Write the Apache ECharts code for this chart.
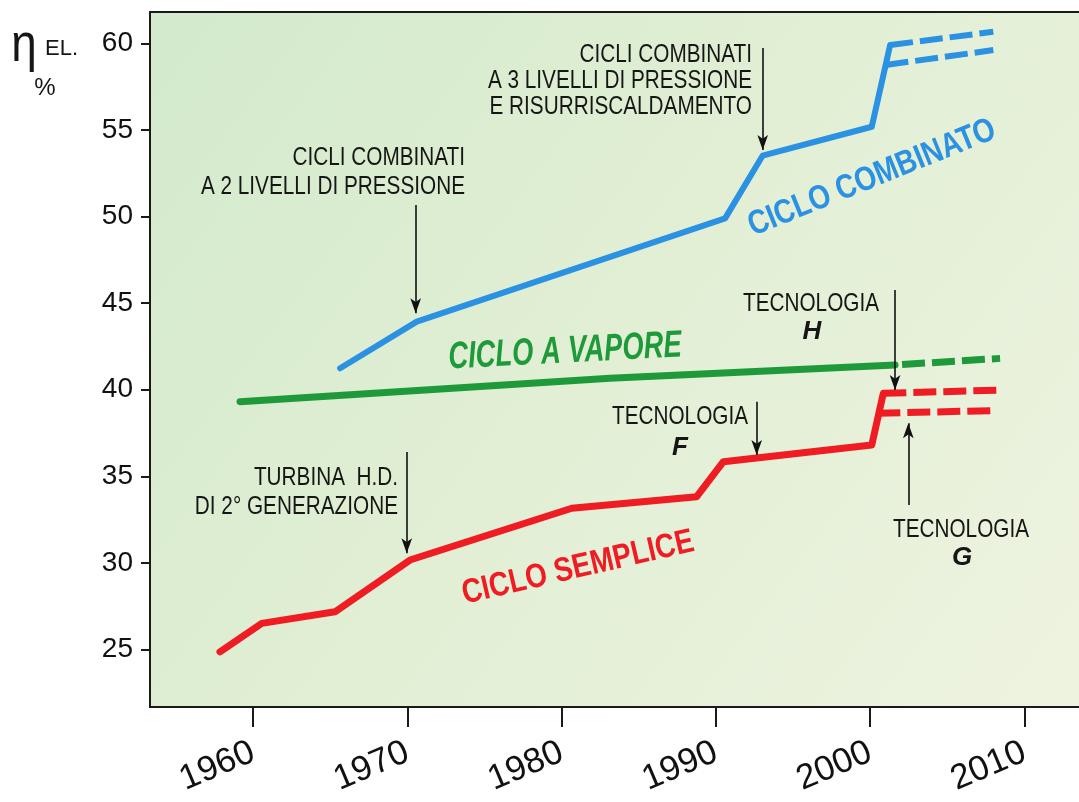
<!DOCTYPE html>
<html><head><meta charset="utf-8">
<script src="https://cdn.jsdelivr.net/npm/echarts@6/dist/echarts.min.js"></script>
<style>html,body{margin:0;padding:0;background:#fff}#c{width:1079px;height:802px}</style>
</head><body><div id="c"></div>
<script>
// ---- data (year, efficiency %) ----
const xTicks = [1960, 1970, 1980, 1990, 2000, 2010];
const yTicks = [25, 30, 35, 40, 45, 50, 55, 60];

const combinedSolid = [[1965.64, 41.24], [1970.61, 43.93], [1990.60, 49.90], [1993.03, 53.52], [2000.11, 55.19], [2001.30, 59.91]];
const combinedUpperForecast = [[2001.30, 59.91], [2007.99, 60.68]];
const combinedLowerForecast = [[2001.00, 58.76], [2007.99, 59.62]];

const steamSolid = [[1959.15, 39.31], [1983.14, 40.66], [2001.62, 41.43]];
const steamForecast = [[2001.62, 41.43], [2008.43, 41.81]];

const simpleSolid = [[1957.85, 24.86], [1960.56, 26.50], [1965.31, 27.17], [1970.17, 30.16], [1980.66, 33.15], [1988.76, 33.82], [1990.49, 35.84], [2000.11, 36.81], [2000.86, 39.79]];
const simpleUpperForecast = [[2000.86, 39.79], [2008.43, 39.98]];
const simpleLowerForecast = [[2000.47, 38.64], [2007.89, 38.79]];

// annotation arrows: [year, fromValue, toValue]
const arrows = [[1970.54, 50.67, 44.41], [1993.04, 59.74, 53.85], [1969.96, 36.40, 30.55], [1992.65, 39.31, 36.23], [2001.62, 45.76, 39.98], [2002.48, 33.34, 38.06]];

const BLUE = '#2a91e3', RED = '#ef1c24', GREEN = '#1f9a3a';
const chart = echarts.init(document.getElementById('c'), null, {renderer: 'canvas'});

function line(data, color, width, dashed, offset) {
  return {
    type: 'line', data: data, showSymbol: false, symbol: 'none', silent: true, animation: false, z: 3,
    lineStyle: {color: color, width: width, type: dashed ? [23, 7] : 'solid', dashOffset: offset || 0,
      cap: dashed ? 'butt' : 'round', join: 'round'}
  };
}

const arrowSeries = {
  type: 'line', data: [], silent: true, animation: false, z: 4,
  markLine: {
    silent: true, animation: false, symbol: ['none', 'arrow'], symbolSize: [8, 15],
    label: {show: false},
    lineStyle: {color: '#111', width: 1.6, type: 'solid'},
    data: arrows.map(a => [{coord: [a[0], a[1]]}, {coord: [a[0], a[2]]}])
  }
};

const TXT = '#161616';
function t(text, x, y, opts) {
  opts = opts || {};
  const align = opts.align || 'center';
  return {
    type: 'text', x: x, y: y, z: 10, scaleX: opts.sx == null ? 0.83 : opts.sx, rotation: (opts.rot || 0) * Math.PI / 180,
    style: {text: text, font: opts.font || '25px "Liberation Sans", Arial, sans-serif', fill: opts.color || TXT,
      textAlign: align, textVerticalAlign: 'middle', align: align, verticalAlign: 'middle'}
  };
}

const option = {
  backgroundColor: '#ffffff',
  animation: false,
  grid: {
    left: 150, top: 12, right: -5, bottom: 95, show: true, borderColor: '#1a1a1a', borderWidth: 2,
    containLabel: false, outerBoundsMode: 'none',
    backgroundColor: {type: 'linear', x: 0, y: 0, x2: 1, y2: 1, colorStops: [
      {offset: 0, color: '#d3eacc'}, {offset: 0.5, color: '#e2efd5'}, {offset: 1, color: '#eef3e0'}]}
  },
  xAxis: {
    type: 'value', min: 1953.315, max: 2013.87,
    axisLine: {show: true, lineStyle: {color: '#1a1a1a', width: 2}},
    axisTick: {show: true, customValues: xTicks, length: 20, lineStyle: {color: '#1a1a1a', width: 2}},
    axisLabel: {customValues: xTicks, rotate: 23, margin: 44, fontSize: 35, color: '#111',
      fontFamily: '"Liberation Sans", Arial, sans-serif', formatter: v => String(v)},
    splitLine: {show: false}
  },
  yAxis: {
    type: 'value', min: 21.67, max: 61.82,
    axisLine: {show: true, lineStyle: {color: '#1a1a1a', width: 2}},
    axisTick: {show: true, customValues: yTicks, length: 9, lineStyle: {color: '#1a1a1a', width: 2}},
    axisLabel: {customValues: yTicks, margin: 17, fontSize: 28, color: '#111',
      fontFamily: '"Liberation Sans", Arial, sans-serif', formatter: v => String(v)},
    splitLine: {show: false}
  },
  series: [
    line(combinedSolid, BLUE, 6, false),
    line(combinedUpperForecast, BLUE, 6, true),
    line(combinedLowerForecast, BLUE, 6, true),
    line(steamSolid, GREEN, 7, false),
    line(steamForecast, GREEN, 7, true, 23),
    line(simpleSolid, RED, 7, false),
    line(simpleUpperForecast, RED, 7, true),
    line(simpleLowerForecast, RED, 7, true),
    arrowSeries
  ],
  graphic: [
    // axis title
    t('η', 24, 46, {font: '54px "Liberation Sans", Arial, sans-serif', sx: 0.85}),
    t('EL.', 45, 49, {font: '22px "Liberation Sans", Arial, sans-serif', sx: 1, align: 'left'}),
    t('%', 45, 88, {font: '24px "Liberation Sans", Arial, sans-serif', sx: 1}),
    // annotations
    t('CICLI COMBINATI', 465, 158, {align: 'right'}),
    t('A 2 LIVELLI DI PRESSIONE', 465, 187, {align: 'right'}),
    t('CICLI COMBINATI', 752, 55, {align: 'right'}),
    t('A 3 LIVELLI DI PRESSIONE', 752, 81, {align: 'right'}),
    t('E RISURRISCALDAMENTO', 752, 107, {align: 'right'}),
    t('TURBINA  H.D.', 398, 478, {align: 'right'}),
    t('DI 2° GENERAZIONE', 398, 507, {align: 'right'}),
    t('TECNOLOGIA', 680, 417),
    t('F', 680, 448, {font: 'italic bold 26px "Liberation Sans", Arial, sans-serif', sx: 1}),
    t('TECNOLOGIA', 811, 304),
    t('H', 812, 332, {font: 'italic bold 26px "Liberation Sans", Arial, sans-serif', sx: 1}),
    t('TECNOLOGIA', 961, 530),
    t('G', 962, 558, {font: 'italic bold 26px "Liberation Sans", Arial, sans-serif', sx: 1}),
    // series labels
    t('CICLO COMBINATO', 872, 178, {font: 'bold 34px "Liberation Sans", Arial, sans-serif', sx: 0.82, rot: 22, color: BLUE}),
    t('CICLO A VAPORE', 565, 352, {font: 'italic bold 38px "Liberation Sans", Arial, sans-serif', sx: 0.72, rot: 3, color: GREEN}),
    t('CICLO SEMPLICE', 578, 568, {font: 'bold 34px "Liberation Sans", Arial, sans-serif', sx: 0.82, rot: 13, color: RED})
  ]
};
chart.setOption(option);
</script>
</body></html>
